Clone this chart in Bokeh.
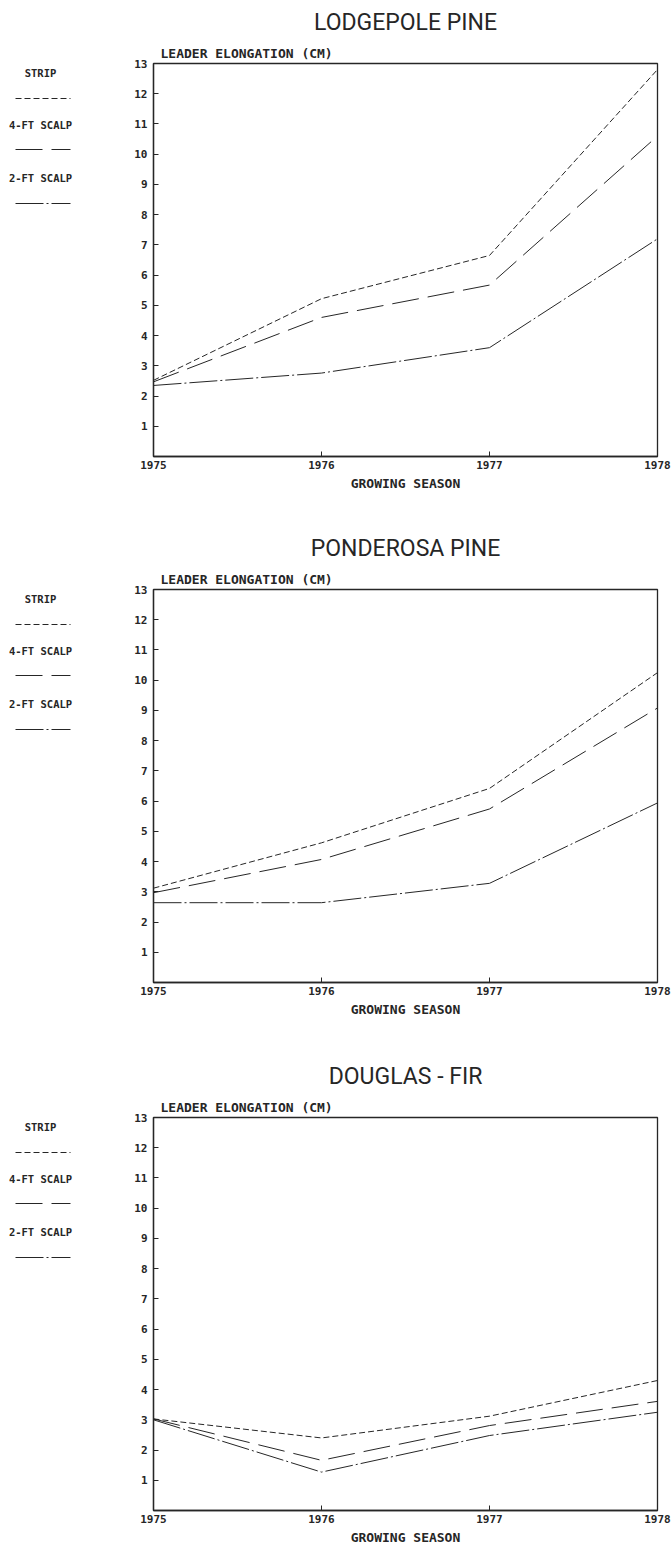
from bokeh.plotting import figure
from bokeh.layouts import column, row
from bokeh.models import Range1d, FixedTicker, Title
from bokeh.embed import file_html
from bokeh.resources import INLINE
from bokeh.core.properties import value

# ---------------- data ----------------
years = [1975, 1976, 1977, 1978]
y_ticks = list(range(1, 14))
treatments = ["STRIP", "4-FT SCALP", "2-FT SCALP"]
species = ["LODGEPOLE PINE", "PONDEROSA PINE", "DOUGLAS - FIR"]

lodgepole_strip = [2.52, 5.22, 6.65, 12.8]
lodgepole_scalp4 = [2.47, 4.6, 5.67, 10.6]
lodgepole_scalp2 = [2.35, 2.76, 3.6, 7.2]

ponderosa_strip = [3.12, 4.62, 6.42, 10.25]
ponderosa_scalp4 = [2.97, 4.07, 5.74, 9.08]
ponderosa_scalp2 = [2.64, 2.64, 3.28, 5.94]

douglas_strip = [3.03, 2.4, 3.12, 4.3]
douglas_scalp4 = [3.03, 1.66, 2.81, 3.61]
douglas_scalp2 = [3.0, 1.27, 2.48, 3.25]

# ---------------- styling ----------------
INK = "#262626"
MONO = "DejaVu Sans Mono"
TITLE_FONT = "Roboto"
DASHES = ["6 3", "27 9", "28 3 2 3"]

FRAME_W, FRAME_H = 504, 393
LEG_W = 128
LEFT, RIGHT = 25, 14
# (top border, bottom border) for each panel
borders = [(63, 70), (63, 72), (63, 39)]


def legend_fig(top, bottom):
    lg = figure(frame_width=LEG_W, frame_height=FRAME_H,
                x_range=Range1d(0, LEG_W), y_range=Range1d(0, FRAME_H),
                x_axis_type=None, y_axis_type=None,
                min_border_left=0, min_border_right=0,
                min_border_top=top, min_border_bottom=bottom,
                output_backend="svg", toolbar_location=None)
    lg.outline_line_color = None
    lg.grid.visible = False
    offs_text = [9, 61, 114]
    offs_line = [35, 86, 140]
    for name, dash, ot, ol in zip(treatments, DASHES, offs_text, offs_line):
        lg.text(x=[40], y=[FRAME_H - ot], text=[name], text_align="center",
                text_baseline="middle", text_font=value(MONO),
                text_font_size="10.5px", text_font_style="bold", text_color=INK)
        lg.line(x=[15, 70], y=[FRAME_H - ol, FRAME_H - ol], line_color=INK,
                line_width=1, line_dash=dash)
    return lg


def main_fig(top, bottom, title, series):
    p = figure(frame_width=FRAME_W, frame_height=FRAME_H,
               x_range=Range1d(1975, 1978), y_range=Range1d(0, 13),
               min_border_left=LEFT, min_border_right=RIGHT,
               min_border_top=top, min_border_bottom=bottom,
               output_backend="svg", toolbar_location=None)
    p.grid.visible = False
    p.outline_line_color = INK
    p.outline_line_width = 1.3
    p.xaxis.ticker = FixedTicker(ticks=years)
    p.yaxis.ticker = FixedTicker(ticks=y_ticks)
    for ax in (p.xaxis[0], p.yaxis[0]):
        ax.major_tick_in = 5
        ax.major_tick_out = 0
        ax.minor_tick_line_color = None
        ax.axis_line_color = INK
        ax.axis_line_width = 1.3
        ax.major_tick_line_color = INK
        ax.major_label_text_font = MONO
        ax.major_label_text_font_size = "11px"
        ax.major_label_text_font_style = "bold"
        ax.major_label_text_color = INK
    p.yaxis.major_label_standoff = 6
    p.xaxis.major_label_standoff = 4
    p.xaxis.axis_label = "GROWING SEASON"
    p.xaxis.axis_label_text_font = MONO
    p.xaxis.axis_label_text_font_size = "13px"
    p.xaxis.axis_label_text_font_style = "bold"
    p.xaxis.axis_label_text_color = INK
    p.xaxis.axis_label_standoff = 4

    for vals, dash in zip(series, DASHES):
        p.line(x=years, y=vals, line_color=INK, line_width=1, line_dash=dash)

    # inner title: y-axis caption, then outer: species name
    p.add_layout(Title(text="LEADER ELONGATION  (CM)", align="left", offset=7,
                       standoff=5, text_font=MONO, text_font_size="13px",
                       text_font_style="bold", text_color=INK), "above")
    p.add_layout(Title(text=title, align="center", offset=12, standoff=12,
                       text_font=TITLE_FONT, text_font_size="23px",
                       text_font_style="normal", text_color=INK), "above")
    return p


all_series = [
    [lodgepole_strip, lodgepole_scalp4, lodgepole_scalp2],
    [ponderosa_strip, ponderosa_scalp4, ponderosa_scalp2],
    [douglas_strip, douglas_scalp4, douglas_scalp2],
]

rows = []
for (top, bottom), name, ser in zip(borders, species, all_series):
    rows.append(row(legend_fig(top, bottom), main_fig(top, bottom, name, ser), spacing=0))

layout = column(*rows, spacing=0)

open("out.html", "w").write(file_html(layout, INLINE))
